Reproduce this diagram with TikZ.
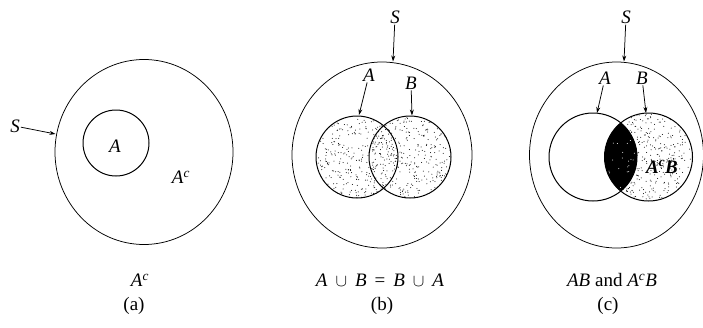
\documentclass[tikz,border=0pt]{standalone}
\usepackage{fontspec}
\setmainfont{Liberation Serif}
\usetikzlibrary{shapes.geometric,arrows.meta}
\newcommand{\vA}{\textit{A}}
\newcommand{\vB}{\textit{B}}
\newcommand{\supc}{\textsuperscript{\textit{c}}}
\newcommand{\opgap}{\hspace{0.42em}}
% random stipple inside a circle: cx, cy, r, count, colour
\newcommand{\stipple}[5]{%
  \begin{scope}
    \clip (#1,#2) circle (#3);
    \foreach \k in {1,...,#4}{%
      \fill[#5] ({#1-#3+2*#3*rnd},{#2-#3+2*#3*rnd}) circle (0.5);
    }
  \end{scope}}
\begin{document}
\begin{tikzpicture}[x=1pt,y=-1pt,
  lbl/.style={font=\fontsize{19}{21}\selectfont\itshape, inner sep=1pt},
  captxt/.style={font=\fontsize{19}{21}\selectfont, inner sep=0pt},
  outer/.style={draw, ellipse, line width=0.75pt, inner sep=0pt, minimum width=178pt, minimum height=185pt},
  setc/.style={draw, circle, line width=1pt, inner sep=0pt},
  arr/.style={-{Stealth[length=6pt,width=4pt]}, line width=0.75pt}]
\useasboundingbox (0,0) rectangle (703,327);
\pgfmathsetseed{12345}

% ---------- fills ----------
\stipple{357}{157}{41}{340}{black}
\stipple{410}{157}{41}{340}{black}
\stipple{648.5}{157}{44}{400}{black}
\begin{scope}
  \clip (593,157) circle (44);
  \fill[black] (648.5,157) circle (44);
\end{scope}
\begin{scope}
  \clip (593,157) circle (44);
  \stipple{648.5}{157}{44}{120}{white}
\end{scope}

% ---------- panel (a) ----------
\node[outer] (Oa) at (144,152) {};
\node[setc, minimum size=66pt] (Aa) at (116,143) {};
\node[lbl] (Alab) at (115,146) {A};
\node[lbl] (Aclab) at (181,177) {A\textsuperscript{c}};
\node[lbl] (Sa) at (15,126) {S};
\coordinate (satip) at (55.5,134);
\draw[arr] (Sa) -- (satip);

% ---------- panel (b) ----------
\node[outer, minimum width=180pt, minimum height=186pt] (Ob) at (382,155) {};
\node[setc, minimum size=82pt] (Ab) at (357,157) {};
\node[setc, minimum size=82pt] (Bb) at (410,157) {};
\node[lbl] (Sb) at (395,17) {S};
\node[lbl] (Ablab) at (369,75) {A};
\node[lbl] (Bblab) at (411,83) {B};
\coordinate (sbtip) at (393,61.5);
\coordinate (abtip) at (359,115);
\coordinate (bbtip) at (412,115.5);
\draw[arr] (Sb) -- (sbtip);
\draw[arr] (Ablab) -- (abtip);
\draw[arr] (Bblab) -- (bbtip);

% ---------- panel (c) ----------
\node[outer, minimum width=174pt, minimum height=186pt] (Oc) at (616.5,155) {};
\node[setc, minimum size=88pt] (Ac) at (593,157) {};
\node[setc, minimum size=88pt] (Bc) at (648.5,157) {};
\node[lbl] (Sc) at (626,17) {S};
\node[lbl] (Aclab2) at (605,78) {A};
\node[lbl] (Bclab) at (642,78) {B};
\node[lbl, font=\fontsize{19}{21}\selectfont\bfseries\itshape] (AcB) at (662,167) {A\textsuperscript{c}B};
\coordinate (sctip) at (624,61.5);
\coordinate (actip) at (597,113);
\coordinate (bctip) at (646,113);
\draw[arr] (Sc) -- (sctip);
\draw[arr] (Aclab2) -- (actip);
\draw[arr] (Bclab) -- (bctip);

% ---------- captions ----------
\node[captxt] (capa) at (140,280) {\vA\supc};
\node[captxt] (laba) at (134,306) {(a)};
\node[captxt] (capb) at (380,280) {\vA\opgap$\cup$\opgap\vB\opgap=\opgap\vB\opgap$\cup$\opgap\vA};
\node[captxt] (labb) at (382,306) {(b)};
\node[captxt] (capc) at (612,280) {\vA\vB\ and \vA\supc\vB};
\node[captxt] (labc) at (608,306) {(c)};
\end{tikzpicture}
\end{document}
